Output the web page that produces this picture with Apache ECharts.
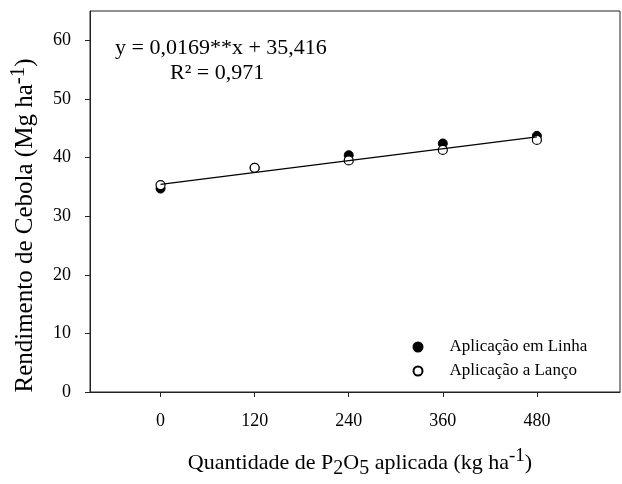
<!DOCTYPE html>
<html>
<head>
<meta charset="utf-8">
<script src="https://cdn.jsdelivr.net/npm/echarts@6/dist/echarts.min.js"></script>
<style>html,body{margin:0;padding:0;background:#fff}#c{width:622px;height:484px}</style>
</head>
<body>
<div id="c"></div>
<script>
const xValues = [0, 120, 240, 360, 480];
const linhaValues = [34.7, 38.25, 40.4, 42.4, 43.7];
const lancoValues = [35.3, 38.25, 39.5, 41.3, 43.0];
const fitX = [0, 480];
const fitY = [35.42, 43.53];
const xTicks = [0, 120, 240, 360, 480];
const yTicks = [0, 10, 20, 30, 40, 50, 60];
const seriesNames = ['Aplicação em Linha', 'Aplicação a Lanço'];
const equationText = 'y = 0,0169**x + 35,416';
const r2Text = 'R² = 0,971';

const FF = 'Liberation Serif';
const chart = echarts.init(document.getElementById('c'));
const richX = {
  n: {fontSize: 22, lineHeight: 32, verticalAlign: 'middle', fontFamily: FF, color: '#000'},
  sub: {fontSize: 20, lineHeight: 18, verticalAlign: 'bottom', fontFamily: FF, color: '#000'},
  sup: {fontSize: 19, lineHeight: 16, verticalAlign: 'top', fontFamily: FF, color: '#000'}
};
const richY = {
  n: {fontSize: 25, lineHeight: 35, verticalAlign: 'middle', fontFamily: FF, color: '#000'},
  sup: {fontSize: 21, lineHeight: 17, verticalAlign: 'top', fontFamily: FF, color: '#000'}
};
const pair = (xs, ys) => xs.map((x, i) => [x, ys[i]]);

chart.setOption({
  animation: false,
  backgroundColor: '#fff',
  grid: {left: 82, right: 2, top: 11, bottom: 82, show: true, borderColor: '#222', borderWidth: 1, backgroundColor: 'transparent'},
  xAxis: {
    type: 'value', min: -90, max: 586,
    name: '{n|Quantidade de P}{sub|2}{n|O}{sub|5}{n| aplicada (kg ha}{sup|-1}{n|)}',
    nameLocation: 'middle', nameGap: 55,
    nameTextStyle: {rich: richX, padding: [0, 0, 0, 10]},
    axisLine: {onZero: false, lineStyle: {color: '#222', width: 1}},
    axisTick: {show: true, inside: false, length: 5, lineStyle: {color: '#222'}, customValues: xTicks},
    axisLabel: {customValues: xTicks, margin: 20, fontFamily: FF, fontSize: 18, color: '#000'},
    splitLine: {show: false}
  },
  yAxis: {
    type: 'value', min: 0, max: 65,
    name: '{n|Rendimento de Cebola (Mg ha}{sup|-1}{n|)}',
    nameLocation: 'middle', nameGap: 47,
    nameTextStyle: {rich: richY, padding: [0, 48, 0, 0]},
    axisLine: {show: true, onZero: false, lineStyle: {color: '#222', width: 1}},
    axisTick: {show: true, inside: false, length: 5, lineStyle: {color: '#222'}, customValues: yTicks},
    axisLabel: {customValues: yTicks, margin: 19, fontFamily: FF, fontSize: 18, color: '#000'},
    splitLine: {show: false}
  },
  legend: {
    orient: 'vertical', left: 407.5, top: 333.5,
    itemWidth: 9, itemHeight: 9, itemGap: 7,
    textStyle: {fontFamily: FF, fontSize: 17, lineHeight: 17, color: '#000', padding: [0, 0, 0, 22]},
    data: [{name: seriesNames[0], icon: 'circle'}, {name: seriesNames[1], icon: 'circle'}]
  },
  graphic: [
    {type: 'text', left: 115, top: 37, style: {text: equationText, fontFamily: FF, fontSize: 22, fill: '#000'}},
    {type: 'text', left: 170, top: 62, style: {text: r2Text, fontFamily: FF, fontSize: 22, fill: '#000'}}
  ],
  series: [
    {name: seriesNames[0], type: 'scatter', symbol: 'circle', symbolSize: 9,
     itemStyle: {color: '#000', borderColor: '#000', borderWidth: 1, opacity: 1}, data: pair(xValues, linhaValues), z: 2},
    {name: seriesNames[1], type: 'scatter', symbol: 'circle', symbolSize: 9,
     itemStyle: {color: '#fff', borderColor: '#000', borderWidth: 1.2, opacity: 1}, data: pair(xValues, lancoValues), z: 3},
    {name: 'ajuste', type: 'line', showSymbol: false, symbol: 'none', data: pair(fitX, fitY),
     lineStyle: {color: '#000', width: 1.2}, z: 4, silent: true}
  ]
});
</script>
</body>
</html>
